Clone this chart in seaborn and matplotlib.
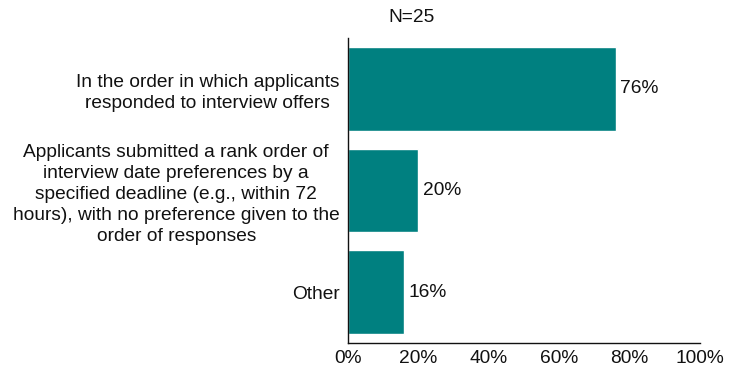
import matplotlib
matplotlib.use("Agg")
import matplotlib.pyplot as plt
import seaborn as sns
import pandas as pd

categories = [
    "In the order in which applicants\nresponded to interview offers",
    "Applicants submitted a rank order of\ninterview date preferences by a\nspecified deadline (e.g., within 72\nhours), with no preference given to the\norder of responses",
    "Other",
]
values = [76, 20, 16]
x_ticks = [0, 20, 40, 60, 80, 100]
tick_labels = ["0%", "20%", "40%", "60%", "80%", "100%"]
title_text = "N=25"

FS = 13.8

sns.set_theme(style="white")
plt.rcParams["font.family"] = ["Liberation Sans", "DejaVu Sans"]
plt.rcParams["font.size"] = FS

df = pd.DataFrame({"category": categories, "value": values})

fig = plt.figure(figsize=(7.43, 3.73), dpi=100)
ax = fig.add_axes([348 / 743, 1 - 343 / 373, 352 / 743, 305 / 373])

sns.barplot(data=df, x="value", y="category", color="#008080",
            saturation=1, width=0.82, ax=ax, orient="h")

ax.set_xlim(0, 100)
ax.set_ylim(2.5, -0.5)
ax.set_xticks(x_ticks)
ax.set_xticklabels(tick_labels, fontsize=FS, color="#111111")
ax.tick_params(axis="x", length=0, pad=5)
ax.tick_params(axis="y", length=0, pad=6)
for lbl in ax.get_yticklabels():
    lbl.set_horizontalalignment("right")
    lbl.set_multialignment("center")
    lbl.set_fontsize(FS)
    lbl.set_color("#111111")
    lbl.set_linespacing(1.3)
ax.set_xlabel("")
ax.set_ylabel("")

for side in ["top", "right"]:
    ax.spines[side].set_visible(False)
for side in ["left", "bottom"]:
    ax.spines[side].set_color("#111111")
    ax.spines[side].set_linewidth(1.0)

for i, v in enumerate(values):
    ax.text(v + 1.3, i, f"{v}%", va="center", ha="left",
            fontsize=FS, color="#111111")

fig.text(412 / 743, 1 - 17 / 373, title_text, ha="center", va="center",
         fontsize=FS, color="#111111")

fig.savefig("out.png", dpi=100)
